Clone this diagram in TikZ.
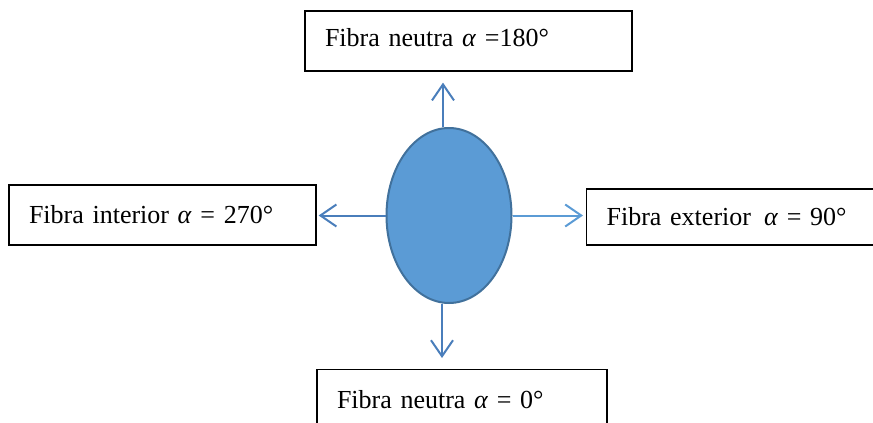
\documentclass[tikz,border=0pt]{standalone}
\usepackage{fontspec}
\setmainfont{Liberation Serif}
\usepackage{tikz}
\usetikzlibrary{arrows.meta,shapes.geometric}
\definecolor{Ink}{HTML}{000000}
\definecolor{ArrowBlue}{HTML}{4A7EBB}
\definecolor{LightBlue}{HTML}{5B9BD5}
\definecolor{EdgeBlue}{HTML}{41719C}
\newcommand{\ang}{\textit{α}}

\begin{document}
\begin{tikzpicture}[
  x=1pt, y=-1pt,
  fibre/.style={
    draw=Ink,
    line width=1.3pt,
    fill=white,
    align=left,
    inner xsep=20pt,
    inner ysep=0pt,
    minimum height=60pt,
    font=\fontsize{26}{30}\selectfont
  },
  section/.style={
    ellipse,
    draw=EdgeBlue,
    line width=2pt,
    fill=LightBlue,
    minimum width=125pt,
    minimum height=175pt,
    inner sep=0pt
  },
  flow/.style={-{Straight Barb[length=16pt,width=22pt,line width=2pt]},line width=2pt,draw=ArrowBlue},
  flowlight/.style={flow,draw=LightBlue}
]
  \useasboundingbox (0,0) rectangle (873,423);
  \clip (0,0) rectangle (873,423);

  \node[section] (ell) at (449,215.5) {};

  \node[fibre, text width=287pt, text depth=8pt] (top) at (468.5,41) {Fibra neutra \ang{} =180°};
  \node[fibre, text width=267pt] (left) at (162.5,215) {Fibra interior \ang{} = 270°};
  \node[fibre, text width=260pt, minimum height=56pt, anchor=west] (right) at (586,217) {Fibra exterior\enspace\ang{} = 90°};
  \node[fibre, text width=250pt, anchor=north] (bottom) at (462,369) {Fibra neutra \ang{} = 0°};

  \draw[flow, shorten >=11pt] ([xshift=-6pt]ell.north) -- ([xshift=-6pt]ell.north |- top.south);
  \draw[flow, shorten >=2pt] (ell.west) -- (ell.west -| left.east);
  \draw[flowlight, shorten >=3pt] (ell.east) -- (ell.east -| right.west);
  \draw[flow, shorten >=11pt] ([xshift=-7pt]ell.south) -- ([xshift=-7pt]ell.south |- bottom.north);
\end{tikzpicture}
\end{document}
